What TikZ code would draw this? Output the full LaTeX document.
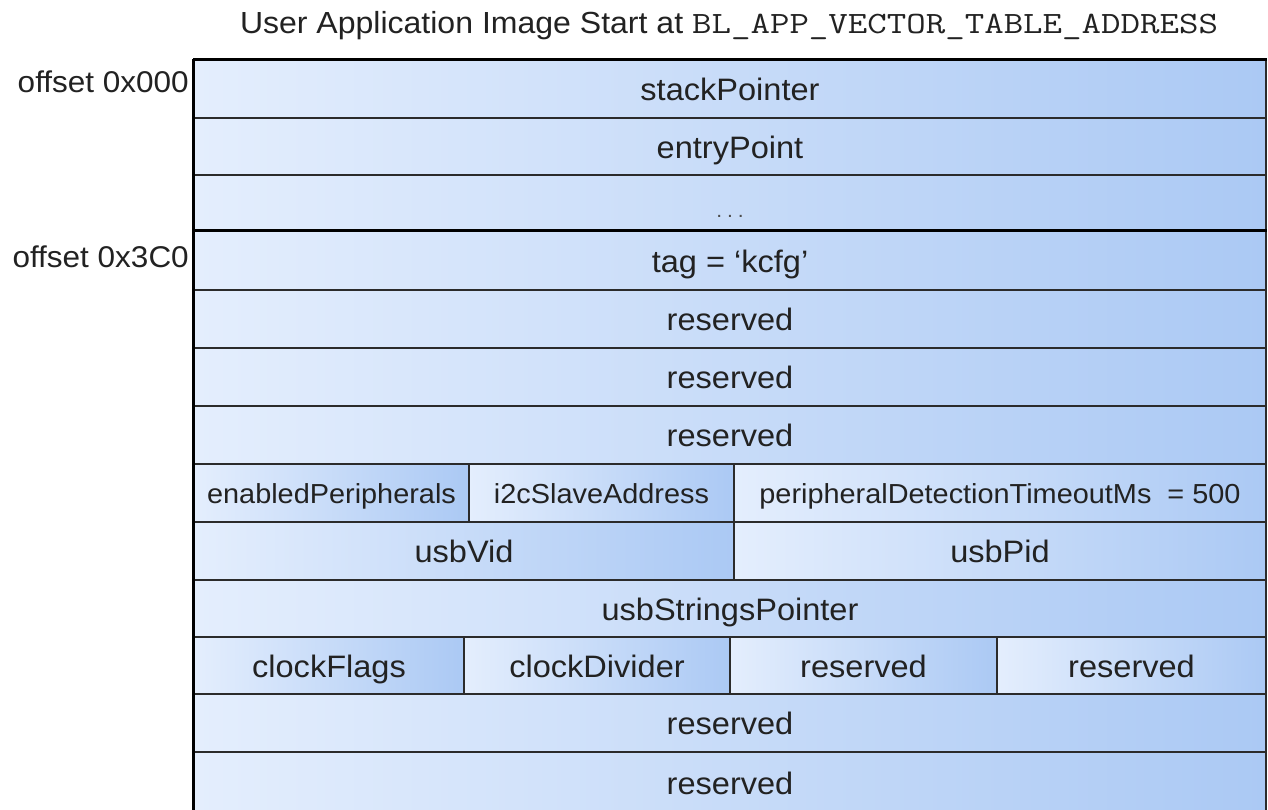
\documentclass[tikz,border=0pt]{standalone}
\usepackage{fontspec}
\usepackage{graphicx}
\setmainfont{Liberation Sans}[FakeStretch=1.05]
\definecolor{cellL}{HTML}{E4EEFD}
\definecolor{cellR}{HTML}{ABC9F4}
\definecolor{edge}{HTML}{2B2B2B}
\definecolor{ink}{HTML}{222222}
\tikzset{
  cell/.style={draw=edge, line width=1.3pt, left color=cellL, right color=cellR,
    inner sep=0pt, text=ink, font=\fontsize{31}{36}\selectfont,
    text height=23pt, text depth=0pt},
  smallcell/.style={font=\fontsize{27.5}{32}\selectfont, text height=20pt},
  frame/.style={line width=3pt, black},
  lab/.style={inner sep=0pt, text=ink, font=\fontsize{30}{36}\selectfont},
  titlelab/.style={inner sep=0pt, text=ink}
}
\newcommand{\mcell}[7][]{%
  \node[cell,#1,minimum width={(#5-#3)*1pt},minimum height={(#6-#4)*1pt}] (#2)
    at ({(#3+#5)/2},{(#4+#6)/2}) {#7};}
\begin{document}
\begin{tikzpicture}[x=1pt,y=-1pt]
\useasboundingbox (0,0) rectangle (1268,809);
\clip (0,0) rectangle (1268,809);
\fill[white] (0,0) rectangle (1268,809);
% title
\node[titlelab, anchor=base] (title) at (729,33)
  {\fontsize{30.5}{36}\selectfont User Application Image Start at \scalebox{1.22}[1]{\fontsize{31}{36}\ttfamily BL\_APP\_VECTOR\_TABLE\_ADDRESS}};
% rows
\mcell{sp}{194}{60}{1266}{118}{stackPointer}
\mcell{ep}{194}{118}{1266}{175}{entryPoint}
\mcell[font=\fontsize{20}{22}\selectfont, text=black!70, text height=28pt]{dots}{194}{175}{1266}{231}{.\hspace{5pt}.\hspace{5pt}.}
\mcell{tag}{194}{231}{1266}{290}{tag = ‘kcfg’}
\mcell{res1}{194}{290}{1266}{348}{reserved}
\mcell{res2}{194}{348}{1266}{406}{reserved}
\mcell{res3}{194}{406}{1266}{464}{reserved}
\mcell[smallcell]{enp}{194}{464}{469}{522}{enabledPeripherals}
\mcell[smallcell]{i2c}{469}{464}{734}{522}{i2cSlaveAddress}
\mcell[smallcell]{pdt}{734}{464}{1266}{522}{peripheralDetectionTimeoutMs~ = 500}
\mcell{vid}{194}{522}{734}{580}{usbVid}
\mcell{pid}{734}{522}{1266}{580}{usbPid}
\mcell{usp}{194}{580}{1266}{637}{usbStringsPointer}
\mcell{cfl}{194}{637}{464}{694}{clockFlags}
\mcell{cdv}{464}{637}{730}{694}{clockDivider}
\mcell{cr1}{730}{637}{997}{694}{reserved}
\mcell{cr2}{997}{637}{1266}{694}{reserved}
\mcell{res4}{194}{694}{1266}{752}{reserved}
\mcell{res5}{194}{752}{1266}{814}{reserved}
% heavy frame lines
\draw[frame] (sp.north west) -- (sp.north east);
\draw[frame] (sp.north west) -- (res5.south west);
\draw[frame] (tag.north west) -- (tag.north east);
% offset labels
\node[lab, anchor=base east] (o1) at (189,92) {offset 0x000};
\node[lab, anchor=base east] (o2) at (189,267) {offset 0x3C0};
\end{tikzpicture}
\end{document}
